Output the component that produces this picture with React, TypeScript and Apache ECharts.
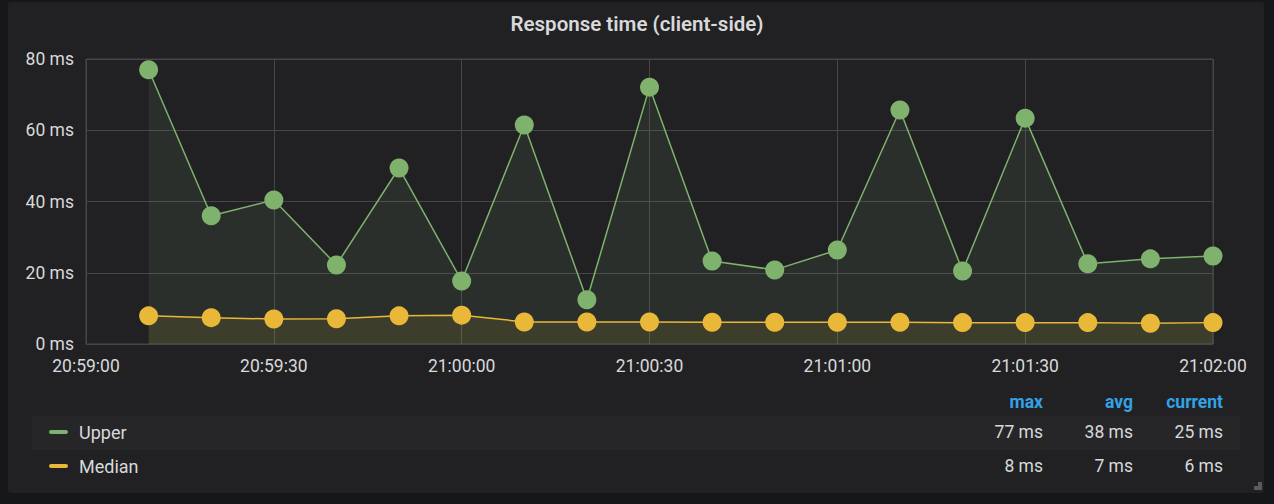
import React, { useEffect, useRef } from "react";
import * as echarts from "echarts";

const times = [
  "20:59:10", "20:59:20", "20:59:30", "20:59:40", "20:59:50", "21:00:00",
  "21:00:10", "21:00:20", "21:00:30", "21:00:40", "21:00:50", "21:01:00",
  "21:01:10", "21:01:20", "21:01:30", "21:01:40", "21:01:50", "21:02:00",
];
const upper = [77, 36, 40.4, 22.2, 49.4, 17.7, 61.5, 12.4, 72.1, 23.3, 20.8, 26.4, 65.7, 20.5, 63.4, 22.5, 23.9, 24.7];
const median = [7.9, 7.4, 7.0, 7.1, 7.9, 8.1, 6.2, 6.2, 6.2, 6.1, 6.1, 6.1, 6.1, 6.0, 6.0, 6.0, 5.8, 6.0];
const seriesNames = ["Upper", "Median"];
const seriesColors = ["#7eb26d", "#eab839"];
const statHeaders = ["max", "avg", "current"];
const xMin = "20:59:00";
const xMax = "21:02:00";
const yTicks = [0, 20, 40, 60, 80];

const toSec = (t: string) => {
  const [h, m, s] = t.split(":").map(Number);
  return h * 3600 + m * 60 + s;
};
const pad = (n: number) => String(n).padStart(2, "0");
const fmtSec = (v: number) =>
  `${pad(Math.floor(v / 3600))}:${pad(Math.floor((v % 3600) / 60))}:${pad(v % 60)}`;

const FONT = "Roboto, 'Helvetica Neue', Arial, sans-serif";
const FS = 17.5;

export default function App() {
  const ref = useRef<HTMLDivElement>(null);
  useEffect(() => {
    document.body.style.margin = "0";
    document.body.style.background = "#161719";
    const chart = echarts.init(ref.current!, undefined, { renderer: "svg" });
    const allSeries = [upper, median];
    const stats = allSeries.map((arr) => {
      const mx = Math.max(...arr);
      const avg = arr.reduce((a, b) => a + b, 0) / arr.length;
      const cur = arr[arr.length - 1];
      return [mx, avg, cur].map((v) => `${Math.round(v)} ms`);
    });
    const statX = [1043, 1133, 1223];
    const rowY = [432, 466];
    const graphics: any[] = [
      {
        type: "rect",
        z: -10,
        silent: true,
        shape: { x: 8, y: 2, width: 1256, height: 491, r: 3 },
        style: { fill: "#212124" },
      },
      {
        type: "rect",
        z: -9,
        silent: true,
        shape: { x: 32, y: 416, width: 1208, height: 34 },
        style: { fill: "#262629" },
      },
      {
        type: "polygon",
        silent: true,
        shape: { points: [[1262, 482], [1262, 490], [1254, 490], [1254, 486], [1258, 486], [1258, 482]] },
        style: { fill: "#5b5b5e" },
      },
    ];
    statHeaders.forEach((h, i) => {
      graphics.push({
        type: "text",
        x: statX[i],
        y: 402,
        style: {
          text: h,
          fill: "#33a2e5",
          font: `bold ${FS}px ${FONT}`,
          align: "right",
          verticalAlign: "middle",
        },
      });
    });
    seriesNames.forEach((name, r) => {
      graphics.push({
        type: "rect",
        shape: { x: 49, y: rowY[r] - 2, width: 19, height: 4, r: 2 },
        style: { fill: seriesColors[r] },
      });
      graphics.push({
        type: "text",
        x: 79,
        y: rowY[r],
        style: { text: name, fill: "#d8d9da", font: `18px ${FONT}`, verticalAlign: "middle" },
      });
      stats[r].forEach((s, i) => {
        graphics.push({
          type: "text",
          x: statX[i],
          y: rowY[r],
          style: {
            text: s,
            fill: "#d8d9da",
            font: `${FS}px ${FONT}`,
            align: "right",
            verticalAlign: "middle",
          },
        });
      });
    });

    chart.setOption({
      animation: false,
      backgroundColor: "#161719",
      title: {
        text: "Response time (client-side)",
        left: "center",
        top: 8,
        textStyle: { color: "#d8d9da", fontSize: 20.5, fontWeight: 600, fontFamily: FONT },
      },
      grid: {
        left: 86,
        right: 61,
        top: 59,
        bottom: 160,
        show: true,
        borderColor: "#46464a",
        borderWidth: 1,
        backgroundColor: "transparent",
      },
      xAxis: {
        type: "value",
        min: toSec(xMin),
        max: toSec(xMax),
        interval: 30,
        axisLine: { show: false },
        axisTick: { show: false },
        splitLine: { show: true, lineStyle: { color: "#46464a", width: 1 } },
        axisLabel: {
          color: "#d8d9da",
          fontSize: FS,
          fontFamily: FONT,
          margin: 13,
          formatter: (v: number) => fmtSec(v),
        },
      },
      yAxis: {
        type: "value",
        min: yTicks[0],
        max: yTicks[yTicks.length - 1],
        interval: 20,
        axisLine: { show: false },
        axisTick: { show: false },
        splitLine: { show: true, lineStyle: { color: "#46464a", width: 1 } },
        axisLabel: {
          color: "#d8d9da",
          fontSize: FS,
          fontFamily: FONT,
          margin: 12,
          formatter: (v: number) => `${v} ms`,
        },
      },
      series: allSeries.map((arr, i) => ({
        name: seriesNames[i],
        type: "line",
        data: arr.map((v, j) => [toSec(times[j]), v]),
        symbol: "circle",
        symbolSize: 19,
        showSymbol: true,
        lineStyle: { color: seriesColors[i], width: 1.5 },
        itemStyle: { color: seriesColors[i] },
        areaStyle: { color: seriesColors[i], opacity: 0.1 },
        z: 2 + i,
      })),
      graphic: graphics,
    });
    return () => chart.dispose();
  }, []);
  return (
    <div
      ref={ref}
      style={{ position: "fixed", left: 0, top: 0, width: 1274, height: 504 }}
    />
  );
}
